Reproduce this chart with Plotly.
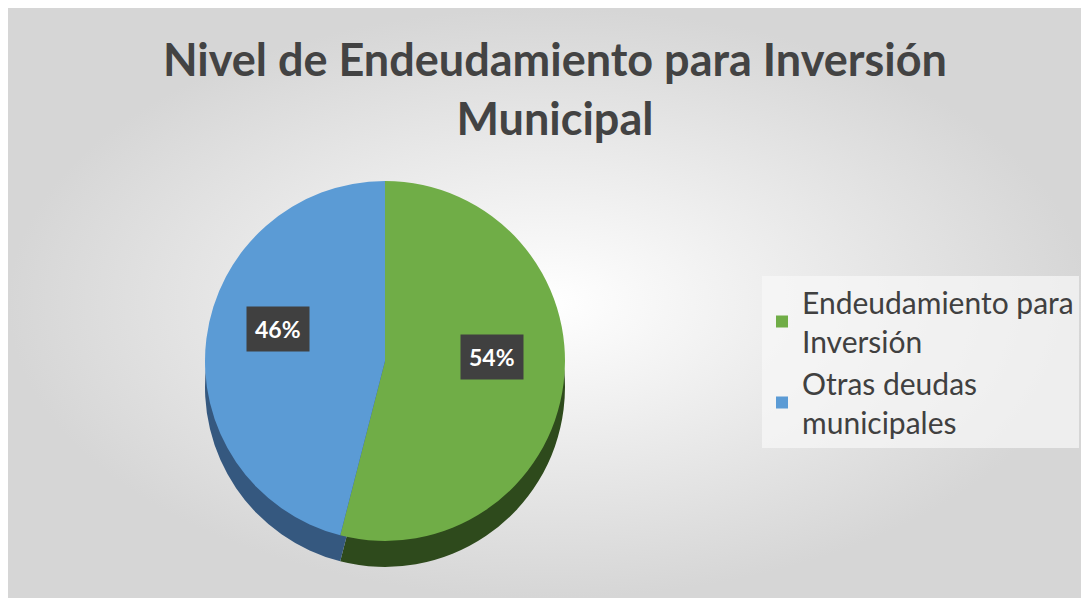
import math

import plotly.graph_objects as go

# the page body adds an 8px white margin, so the figure starts at (8, 8) on screen
OX, OY = 8, 8
W, H = 1089 - OX, 598 - OY

title_lines = ["Nivel de Endeudamiento para Inversión", "Municipal"]
labels = ["Endeudamiento para<br>Inversión", "Otras deudas<br>municipales"]
values = [54, 46]
colors = ["#70AD47", "#5B9BD5"]
side_colors = ["#2E4A1C", "#35587F"]

# pie geometry in screen pixels
cx, cy, radius, depth = 385, 361, 180, 26


def px(x):
    return (x - OX) / W


def py(y):
    return 1 - (y - OY) / H


def domain(center_y):
    return dict(x=[px(cx - radius), px(cx + radius)],
                y=[py(center_y + radius), py(center_y - radius)])


fig = go.Figure()

# soft gray background
fig.add_trace(go.Scatter(x=[0, 1, 1, 0, 0], y=[0, 0, 1, 1, 0], mode="lines", fill="toself",
                         line=dict(width=0), hoverinfo="skip", showlegend=False,
                         fillgradient=dict(type="radial",
                                           colorscale=[[0, "#ffffff"], [1, "#d6d6d6"]])))

# darker copy underneath gives the pie some thickness
fig.add_trace(go.Pie(labels=labels, values=values, sort=False, direction="clockwise", rotation=0,
                     marker=dict(colors=side_colors, line=dict(width=0)),
                     textinfo="none", hoverinfo="skip", showlegend=False,
                     domain=domain(cy + depth)))

fig.add_trace(go.Pie(labels=labels, values=values, sort=False, direction="clockwise", rotation=0,
                     marker=dict(colors=colors, line=dict(width=0)),
                     textinfo="none", domain=domain(cy)))

# percentage labels in dark boxes
total = sum(values)
cum = 0
for v in values:
    mid = 2 * math.pi * (cum + v / 2) / total
    cum += v
    lx = cx + math.sin(mid) * radius * 0.6
    ly = cy - math.cos(mid) * radius * 0.6 - 18
    fig.add_annotation(x=px(lx), y=py(ly), xref="paper", yref="paper",
                       xanchor="center", yanchor="middle",
                       text=f"<b>{round(100 * v / total)}%</b>", showarrow=False,
                       font=dict(family="Lato", size=23, color="white"),
                       bgcolor="#404040", borderpad=8)

# title
fig.add_annotation(x=px(555), y=py(30), xref="paper", yref="paper", xanchor="center", yanchor="top",
                   text="<b>" + "<br>".join(title_lines) + "</b>", showarrow=False,
                   font=dict(family="Lato", size=45, color="#434343"))

fig.update_layout(
    width=W, height=H,
    margin=dict(l=0, r=0, t=0, b=0),
    paper_bgcolor="white",
    plot_bgcolor="rgba(0,0,0,0)",
    xaxis=dict(visible=False, range=[0, 1], fixedrange=True),
    yaxis=dict(visible=False, range=[0, 1], fixedrange=True),
    legend=dict(x=px(762), xanchor="left", y=py(276), yanchor="top",
                bgcolor="rgba(248,248,248,0.7)", borderwidth=0,
                font=dict(family="Lato", size=30, color="#404040"),
                itemsizing="constant"),
    showlegend=True,
)

fig.write_html("out.html")
